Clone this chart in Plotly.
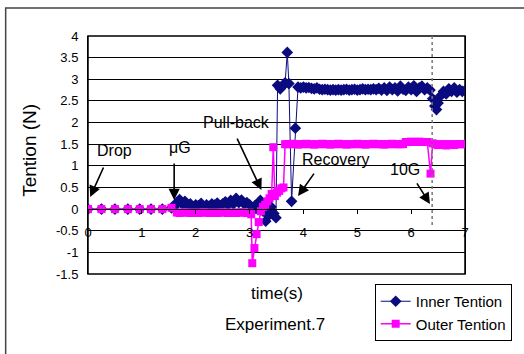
import plotly.graph_objects as go

# ---------------- data ----------------
t_outer = [0, 0.25, 0.5, 0.74, 0.96, 1.17, 1.38, 1.55,
           1.65, 1.70, 1.75, 1.80, 1.85, 1.90, 1.95, 2.00, 2.05, 2.10, 2.15, 2.20, 2.25, 2.30,
           2.35, 2.40, 2.45, 2.50, 2.55, 2.60, 2.65, 2.70, 2.75, 2.80, 2.85, 2.90, 2.95, 3.00,
           3.03, 3.05, 3.09, 3.13, 3.17, 3.21, 3.25, 3.29, 3.33, 3.37, 3.41, 3.44, 3.47, 3.51,
           3.55, 3.59, 3.63, 3.66,
           3.70, 3.75, 3.80, 3.85, 3.90, 3.95, 4.00, 4.05, 4.10, 4.15, 4.20, 4.25, 4.30, 4.35,
           4.40, 4.45, 4.50, 4.55, 4.60, 4.65, 4.70, 4.75, 4.80, 4.85, 4.90, 4.95, 5.00, 5.05,
           5.10, 5.15, 5.20, 5.25, 5.30, 5.35, 5.40, 5.45, 5.50, 5.55, 5.60, 5.65, 5.70, 5.75,
           5.80, 5.85, 5.90, 5.95, 6.00, 6.05, 6.10, 6.15, 6.20, 6.25, 6.30,
           6.36, 6.40, 6.45, 6.50, 6.55, 6.60, 6.65, 6.70, 6.75, 6.80, 6.85, 6.90, 6.95, 7.00]
v_outer = [0, 0, 0, 0, 0, 0, 0, 0.03,
           -0.08, -0.09, -0.08, -0.07, -0.08, -0.09, -0.08, -0.08, -0.09, -0.08, -0.07, -0.08, -0.09, -0.08,
           -0.08, -0.09, -0.08, -0.07, -0.08, -0.09, -0.08, -0.08, -0.09, -0.08, -0.07, -0.08, -0.09, -0.08,
           -0.12, -1.25, -0.90, -0.58, -0.30, -0.05, 0.05, 0.10, 0.18, 0.25, 0.35, 1.43, 0.30, 0.38,
           0.42, 0.48, 0.50, 1.50,
           1.50, 1.50, 1.51, 1.50, 1.49, 1.50, 1.50, 1.51, 1.50, 1.50, 1.49, 1.50, 1.50, 1.51,
           1.50, 1.50, 1.49, 1.50, 1.50, 1.51, 1.50, 1.50, 1.49, 1.50, 1.50, 1.50, 1.51, 1.50,
           1.50, 1.49, 1.50, 1.50, 1.51, 1.50, 1.50, 1.50, 1.49, 1.50, 1.50, 1.51, 1.50, 1.50,
           1.50, 1.50, 1.55, 1.55, 1.56, 1.55, 1.55, 1.56, 1.55, 1.55, 1.55,
           0.82, 1.52, 1.50, 1.48, 1.50, 1.50, 1.47, 1.50, 1.50, 1.48, 1.50, 1.50, 1.50, 1.50]

t_inner = [0, 0.25, 0.5, 0.74, 0.96, 1.17, 1.38, 1.55,
           1.60, 1.65, 1.70, 1.75, 1.80, 1.85, 1.90, 1.95, 2.00, 2.05, 2.10, 2.15, 2.20, 2.25,
           2.30, 2.35, 2.40, 2.45, 2.50, 2.55, 2.60, 2.65, 2.70, 2.75, 2.80, 2.85, 2.90, 2.95, 3.00,
           3.05, 3.10, 3.15, 3.20, 3.25, 3.30, 3.35, 3.40, 3.45, 3.49, 3.52, 3.57, 3.62, 3.66,
           3.70, 3.73, 3.78, 3.85, 3.90,
           3.95, 4.00, 4.05, 4.10, 4.15, 4.20, 4.25, 4.30, 4.35, 4.40, 4.45, 4.50, 4.55, 4.60,
           4.65, 4.70, 4.75, 4.80, 4.85, 4.90, 4.95, 5.00, 5.05, 5.10, 5.15, 5.20, 5.25, 5.30,
           5.35, 5.40, 5.45, 5.50, 5.55, 5.60, 5.65, 5.70, 5.75, 5.80, 5.85, 5.90, 5.95, 6.00,
           6.05, 6.10, 6.15, 6.20, 6.25, 6.30,
           6.35, 6.40, 6.44, 6.47, 6.50, 6.55, 6.60, 6.65, 6.70, 6.75, 6.80, 6.85, 6.90, 6.95, 7.00]
v_inner = [0, 0, 0, 0, 0, 0, 0, 0.03,
           0.05, 0.15, 0.22, 0.12, 0.18, 0.08, 0.12, 0.06, 0.10, 0.08, 0.13, 0.06, 0.10, 0.07,
           0.12, 0.09, 0.14, 0.07, 0.12, 0.17, 0.10, 0.20, 0.12, 0.25, 0.15, 0.21, 0.12, 0.15, 0.10,
           -0.05, 0.08, 0.00, 0.20, -0.05, -0.28, -0.15, 0.05, -0.10, -0.20, 2.86, 2.78, 2.85, 2.92,
           3.62, 2.90, 0.18, 1.87, 2.82,
           2.80, 2.82, 2.80, 2.81, 2.79, 2.78, 2.80, 2.77, 2.76, 2.77, 2.76, 2.75, 2.76, 2.75,
           2.76, 2.75, 2.76, 2.77, 2.75, 2.76, 2.77, 2.75, 2.76, 2.78, 2.76, 2.77, 2.76, 2.78,
           2.76, 2.79, 2.75, 2.80, 2.74, 2.82, 2.76, 2.80, 2.73, 2.84, 2.77, 2.74, 2.82, 2.76,
           2.85, 2.72, 2.80, 2.84, 2.76, 2.80,
           2.75, 2.55, 2.38, 2.30, 2.45, 2.62, 2.72, 2.66, 2.78, 2.72, 2.80, 2.70, 2.76, 2.72, 2.74]

y_ticks = [-1.5, -1, -0.5, 0, 0.5, 1, 1.5, 2, 2.5, 3, 3.5, 4]
y_ticktext = ["-1.5", "-1", "-0.5", "0", "0.5", "1", "1.5", "2", "2.5", "3", "3.5", "4"]
x_ticks = [0, 1, 2, 3, 4, 5, 6, 7]
x_ticktext = ["0", "1", "2", "3", "4", "5", "6", "7"]

# annotation labels: (text, x, y)
labels = [("Drop", 0.50, 1.36), ("μG", 1.70, 1.43), ("Pull-back", 2.76, 1.99),
          ("Recovery", 4.60, 1.14), ("10G", 5.89, 0.92)]
# arrows: tip (x, y) in data, tail offset in px
arrows = [(0.04, 0.28, 14, -31), (1.60, 0.21, 0, -38), (3.22, 0.44, -25, -53),
          (3.90, 0.30, 17, -24), (6.35, 0.12, -14, -22)]

FONT = "Liberation Sans"
NAVY = "#0b0b80"
MAG = "#ff00ff"

fig = go.Figure()
fig.add_trace(go.Scatter(x=t_inner, y=v_inner, name="Inner Tention", mode="lines+markers",
                         line=dict(color=NAVY, width=1),
                         marker=dict(symbol="diamond", size=9, color=NAVY)))
fig.add_trace(go.Scatter(x=t_outer, y=v_outer, name="Outer Tention", mode="lines+markers",
                         line=dict(color=MAG, width=1.5),
                         marker=dict(symbol="square", size=8, color=MAG)))

fig.update_layout(
    width=524, height=354,
    margin=dict(l=88, r=56, t=36, b=80),
    plot_bgcolor="white", paper_bgcolor="white",
    font=dict(family=FONT, size=13, color="black"),
    showlegend=True,
    legend=dict(x=0.7605, y=-0.042, xanchor="left", yanchor="top",
                bordercolor="black", borderwidth=1, bgcolor="white",
                font=dict(family=FONT, size=15, color="black")),
    xaxis=dict(range=[0, 7], tickvals=x_ticks, ticktext=x_ticktext, showgrid=False,
               zeroline=False, anchor="free", position=1.5 / 5.5, showline=True,
               linecolor="black", linewidth=1, ticks="outside", ticklen=4, tickcolor="black",
               ticklabelstandoff=7, tickfont=dict(family=FONT, size=13)),
    yaxis=dict(range=[-1.5, 4], tickvals=y_ticks, ticktext=y_ticktext, showgrid=True,
               gridcolor="black", gridwidth=1, zeroline=False, showline=True,
               linecolor="black", mirror=True, ticks="", ticklabelstandoff=6,
               tickfont=dict(family=FONT, size=13)),
)

# plot area border
fig.add_shape(type="rect", xref="paper", yref="paper", x0=0, x1=1, y0=0, y1=1,
              line=dict(color="black", width=1.5), layer="below")
# outer chart border
fig.add_shape(type="rect", xref="paper", yref="paper", x0=-0.2184, x1=1.3, y0=-0.5, y1=1.1176,
              line=dict(color="#444444", width=1.5), layer="below")
# dotted vertical line at 10G
fig.add_shape(type="line", xref="x", yref="paper", x0=6.39, x1=6.39, y0=0.206, y1=1.013,
              line=dict(color="#777777", width=1.5, dash="dot"))

for txt, x, y in labels:
    fig.add_annotation(x=x, y=y, xref="x", yref="y", text=txt, showarrow=False,
                       xanchor="center", yanchor="middle",
                       font=dict(family=FONT, size=16, color="black"))
for x, y, ax, ay in arrows:
    fig.add_annotation(x=x, y=y, xref="x", yref="y", text="", showarrow=True,
                       ax=ax, ay=ay, arrowhead=2, arrowsize=1.4, arrowwidth=1.6,
                       arrowcolor="black")

fig.add_annotation(x=-0.155, y=0.52, xref="paper", yref="paper", text="Tention (N)",
                   textangle=-90, showarrow=False, xanchor="center", yanchor="middle",
                   font=dict(family=FONT, size=19))
fig.add_annotation(x=0.5, y=-0.08, xref="paper", yref="paper", text="time(s)",
                   showarrow=False, xanchor="center", yanchor="middle",
                   font=dict(family=FONT, size=17))
fig.add_annotation(x=0.495, y=-0.214, xref="paper", yref="paper", text="Experiment.7",
                   showarrow=False, xanchor="center", yanchor="middle",
                   font=dict(family=FONT, size=17))

fig.write_html("out.html")
